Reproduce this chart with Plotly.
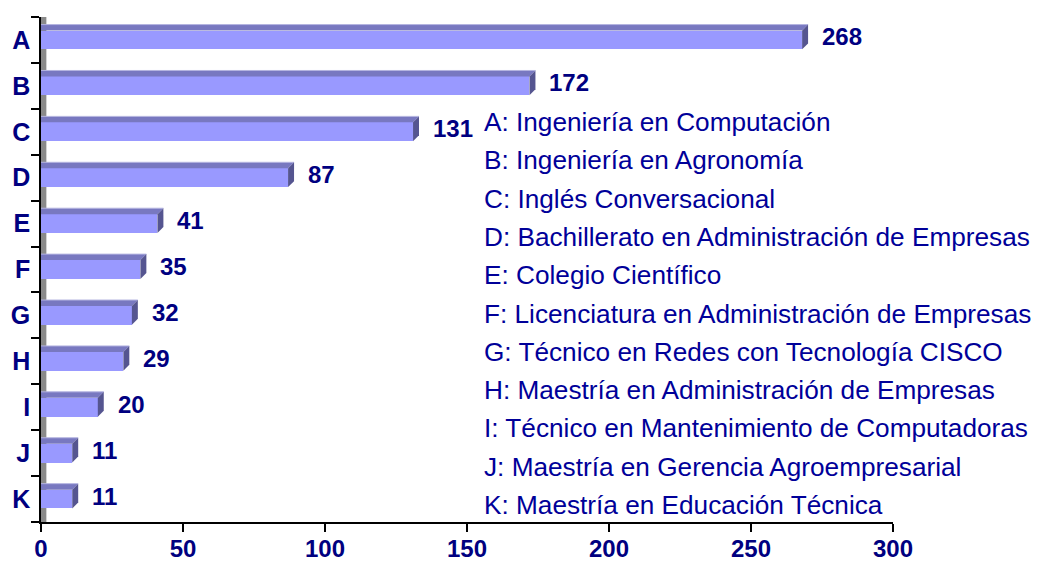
import plotly.graph_objects as go

categories = ["A", "B", "C", "D", "E", "F", "G", "H", "I", "J", "K"]
values = [268, 172, 131, 87, 41, 35, 32, 29, 20, 11, 11]
descriptions = [
    "Ingeniería en Computación",
    "Ingeniería en Agronomía",
    "Inglés Conversacional",
    "Bachillerato en Administración de Empresas",
    "Colegio Científico",
    "Licenciatura en Administración de Empresas",
    "Técnico en Redes con Tecnología CISCO",
    "Maestría en Administración de Empresas",
    "Técnico en Mantenimiento de Computadoras",
    "Maestría en Gerencia Agroempresarial",
    "Maestría en Educación Técnica",
]
x_ticks = [0, 50, 100, 150, 200, 250, 300]

FONT = "Arial, Liberation Sans, sans-serif"
NAVY = "#000080"
LEG = "#000099"

n = len(categories)
pos = list(range(n))
bar_w = 0.41
dx = 2.1      # depth in x units
dy = 0.13     # depth in category units

fig = go.Figure()
fig.add_trace(go.Bar(
    x=values, y=pos, orientation="h", width=bar_w,
    marker=dict(color="#9999FF", line=dict(width=0)),
    hoverinfo="skip", showlegend=False,
))

shapes = []
# gray wall next to the value axis
shapes.append(dict(type="rect", xref="x", yref="y", layer="below",
                   x0=0, x1=dx * 0.9, y0=-0.5, y1=n - 0.5,
                   fillcolor="#8a8a8a", line=dict(width=0)))
for i, v in enumerate(values):
    t = i - bar_w / 2
    b = i + bar_w / 2
    shapes.append(dict(type="path", xref="x", yref="y", layer="above",
                       path=f"M 0,{t} L {v},{t} L {v+dx},{t-dy} L 0,{t-dy} Z",
                       fillcolor="#7878C0", line=dict(width=0)))
    shapes.append(dict(type="path", xref="x", yref="y", layer="above",
                       path=f"M 0,{t-dy} L {v+dx},{t-dy}",
                       line=dict(color="#B4B4E0", width=1)))
    shapes.append(dict(type="path", xref="x", yref="y", layer="above",
                       path=f"M {v},{t} L {v+dx},{t-dy} L {v+dx},{b-dy} L {v},{b} Z",
                       fillcolor="#555590", line=dict(width=0)))

annotations = []
for i, v in enumerate(values):
    annotations.append(dict(x=v, y=i, xref="x", yref="y", text=f"<b>{v}</b>",
                            showarrow=False, xanchor="left", yanchor="middle",
                            xshift=18, yshift=3,
                            font=dict(family=FONT, size=24, color=NAVY)))

# page has an 8px body margin; figure is sized/offset to compensate
L, T, PW, PH = 33, 9, 852, 505
top_y = 122 - 8
step = 38.3
for i, (c, d) in enumerate(zip(categories, descriptions)):
    py = top_y + i * step
    annotations.append(dict(x=(482 - 8 - L) / PW, y=(T + PH - py) / PH, xref="paper", yref="paper",
                            text=f"{c}: {d}", showarrow=False, xanchor="left", yanchor="middle",
                            font=dict(family=FONT, size=26.2, color=LEG)))

fig.update_layout(
    width=1032, height=554,
    margin=dict(l=L, r=1032 - L - PW, t=T, b=554 - T - PH, autoexpand=False),
    paper_bgcolor="white", plot_bgcolor="white",
    shapes=shapes, annotations=annotations,
    bargap=0,
    xaxis=dict(range=[0, 300], tickvals=x_ticks, ticktext=[f"<b>{t}</b>" for t in x_ticks],
               automargin=False,
               showgrid=False, zeroline=False, showline=True, linecolor="black", linewidth=1.5,
               ticks="outside", ticklen=8, tickcolor="black", tickwidth=1.5,
               ticklabelstandoff=-4,
               tickfont=dict(family=FONT, size=24, color=NAVY)),
    yaxis=dict(range=[n - 0.5, -0.5], tickvals=pos, ticktext=[f"<b>{c}</b>" for c in categories],
               automargin=False,
               showgrid=False, zeroline=False, showline=True, linecolor="black", linewidth=1.5,
               ticks="", ticklabelstandoff=4,
               minor=dict(tickvals=[p - 0.5 for p in pos] + [n - 0.5], ticks="outside",
                          ticklen=8, tickcolor="black", tickwidth=1.5),
               tickfont=dict(family=FONT, size=25, color=NAVY)),
)

fig.write_html("out.html")
